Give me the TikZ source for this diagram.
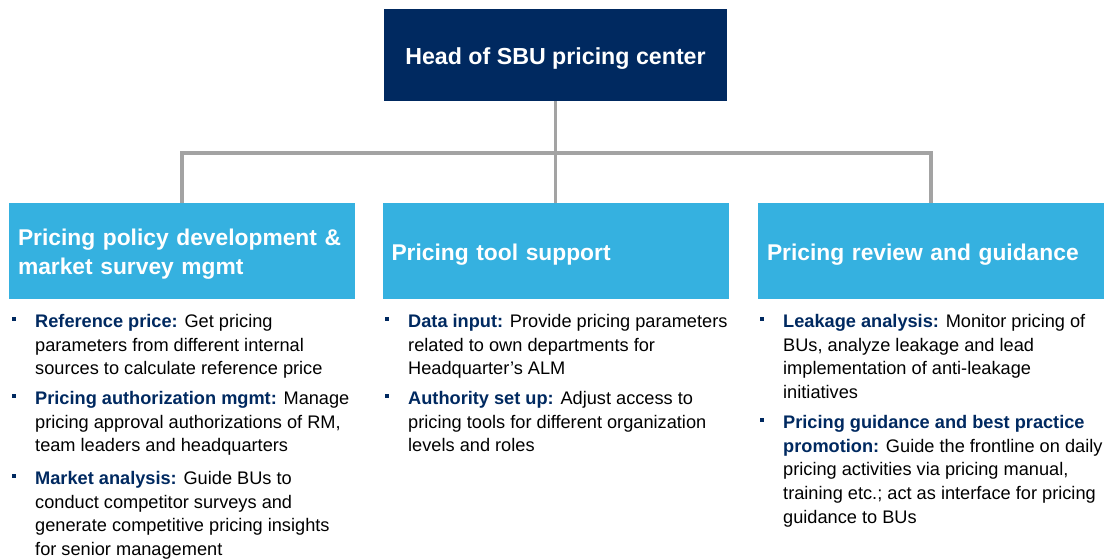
\documentclass[tikz,border=0pt]{standalone}
\usepackage{fontspec}
\setmainfont{Liberation Sans}
\definecolor{navy}{HTML}{002960}
\definecolor{sky}{HTML}{35B1E0}
\definecolor{linegray}{HTML}{A3A3A3}
\newcommand{\hl}[1]{\textbf{\color{navy}#1}}
\newcommand{\lowerby}[1]{\raisebox{-3.5pt}[\height][\depth]{#1}}
\begin{document}
\begin{tikzpicture}[x=1pt,y=-1pt,
  headbox/.style={fill=navy,text=white,font=\fontsize{23.2}{27}\selectfont\bfseries,minimum width=343pt,minimum height=92pt,inner sep=0pt},
  catbox/.style={fill=sky,text=white,font=\fontsize{22.8}{29}\selectfont\bfseries,minimum width=346pt,minimum height=96pt,text width=328pt,inner xsep=9pt,inner ysep=0pt,align=left},
  conn/.style={draw=linegray,line width=3.3pt},
  bul/.style={fill=navy,minimum width=4.6pt,minimum height=4.6pt,inner sep=0pt},
  btext/.style={anchor=north west,inner sep=0pt,align=left,font=\fontsize{18.2}{23.7}\selectfont}
]
\useasboundingbox (0,0) rectangle (1109,559);
\node[headbox] (head) at (555.5,55) {\lowerby{Head of SBU pricing center}};
\node[catbox] (left) at (182,251) {\lowerby{\parbox{328pt}{\raggedright Pricing policy development \&\\market survey mgmt}}};
\node[catbox] (mid) at (555.5,251) {\lowerby{Pricing tool support}};
\node[catbox] (right) at (931,251) {\lowerby{Pricing review and guidance}};
\coordinate (bus) at (555.5,153);
\draw[conn] (head.south) -- (bus);
\draw[conn] (bus) -- (mid.north);
\draw[conn] (left.north) |- (bus) -| (right.north);

% left column
\node[bul] (b1) at (14,319) {};
\node[btext] (t1) at (35,314) {\hl{Reference price:} Get pricing\\parameters from different internal\\sources to calculate reference price};
\node[bul] (b2) at (14,396) {};
\node[btext] (t2) at (35,391) {\hl{Pricing authorization mgmt:} Manage\\pricing approval authorizations of RM,\\team leaders and headquarters};
\node[bul] (b3) at (14,476) {};
\node[btext] (t3) at (35,471) {\hl{Market analysis:} Guide BUs to\\conduct competitor surveys and\\generate competitive pricing insights\\for senior management};

% middle column
\node[bul] (b4) at (387,319) {};
\node[btext] (t4) at (408,314) {\hl{Data input:} Provide pricing parameters\\related to own departments for\\Headquarter’s ALM};
\node[bul] (b5) at (387,396) {};
\node[btext] (t5) at (408,391) {\hl{Authority set up:} Adjust access to\\pricing tools for different organization\\levels and roles};

% right column
\node[bul] (b6) at (762,319) {};
\node[btext] (t6) at (783,314) {\hl{Leakage analysis:} Monitor pricing of\\BUs, analyze leakage and lead\\implementation of anti-leakage\\initiatives};
\node[bul] (b7) at (762,420) {};
\node[btext] (t7) at (783,415) {\hl{Pricing guidance and best practice}\\\hl{promotion:} Guide the frontline on daily\\pricing activities via pricing manual,\\training etc.; act as interface for pricing\\guidance to BUs};
\end{tikzpicture}
\end{document}
